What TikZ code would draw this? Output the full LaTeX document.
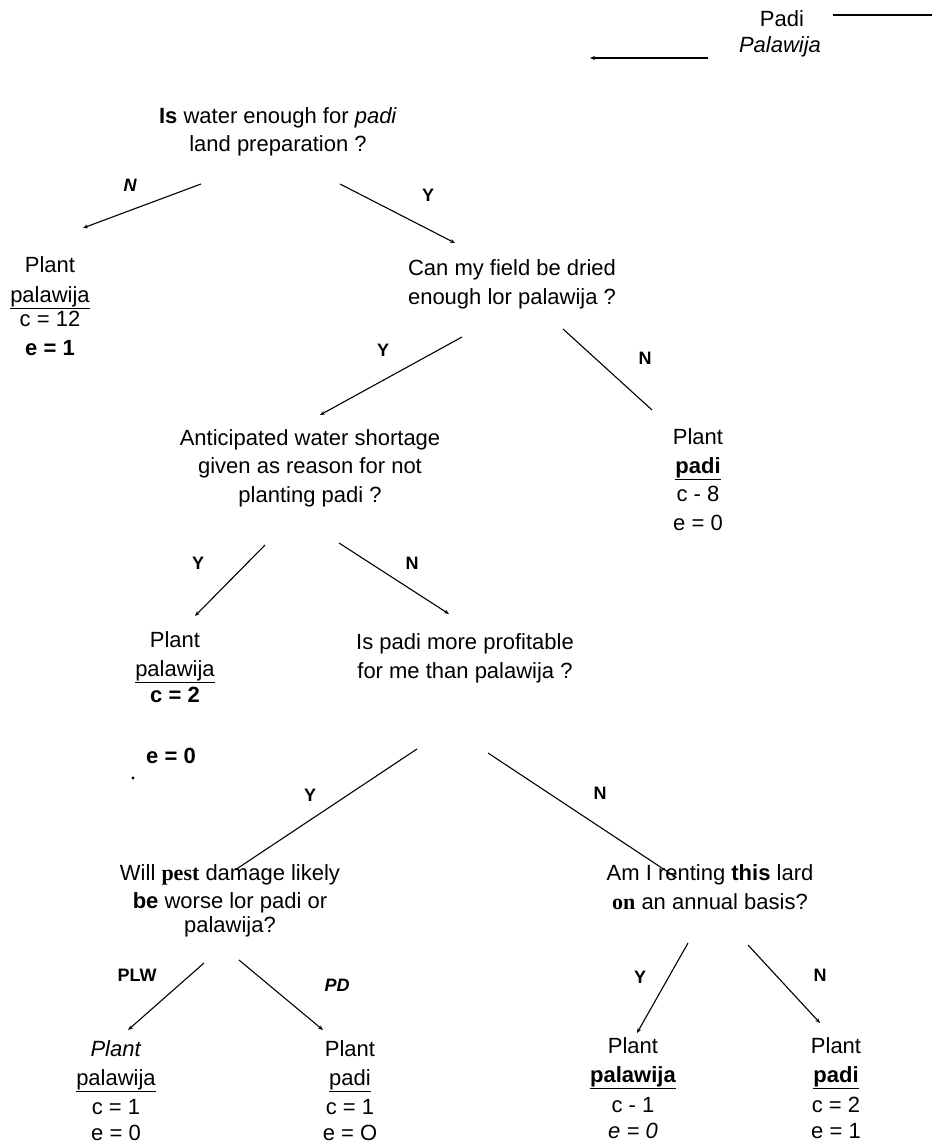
\documentclass[tikz,border=0pt]{standalone}
\usepackage{fontspec}
\setmainfont{Liberation Sans}
\newfontfamily\serifb{Liberation Serif}
\usetikzlibrary{arrows.meta}
\begin{document}
\begin{tikzpicture}[x=1pt,y=-1pt,
  txt/.style={font=\fontsize{22}{28.5}\selectfont, align=center, anchor=base, inner sep=0pt},
  lbl/.style={font=\fontsize{18}{20}\selectfont\bfseries, inner sep=0pt},
  arr/.style={-{Stealth[length=5pt,width=4pt]}, line width=1.1pt},
  ln/.style={line width=1.1pt}]
\useasboundingbox (0,0) rectangle (932,1147);

% legend
\node[txt] (lgpadi) at (782,27) {Padi};
\node[txt] (lgpal) at (780,53) {\textit{Palawija}};
\coordinate (lgA1) at (833,15); \coordinate (lgA2) at (932,15);
\coordinate (lgB1) at (708,58); \coordinate (lgB2) at (590,58);
\draw[ln] (lgA1) -- (lgA2);
\draw[arr] (lgB1) -- (lgB2);

% questions (anchor base = baseline of last line)
\node[txt] (q1) at (278,152) {\textbf{Is} water enough for \textit{padi}\\land preparation ?};
\node[txt] (q2) at (512,304) {Can my field be dried\\enough lor palawija ?};
\node[txt] (q3) at (310,502) {Anticipated water shortage\\given as reason for not\\planting padi ?};
\node[txt] (q4) at (465,678) {Is padi more profitable\\for me than palawija ?};
\node[txt] (q5) at (230,932) {Will {\serifb\bfseries pest} damage likely\\\textbf{be} worse lor padi or\\[-5pt]palawija?};
\node[txt] (q6) at (710,909) {Am I renting \textbf{this} lard\\{\serifb\bfseries on} an annual basis?};

% leaves
\node[txt] (l1) at (50,355) {Plant\\[1pt]\underline{palawija}\\[-4pt]c = 12\\\textbf{e = 1}};
\node[txt] (l2) at (698,530) {Plant\\\underline{\textbf{padi}}\\c - 8\\e = 0};
\node[txt] (l3) at (175,702) {Plant\\[1pt]\underline{palawija}\\[-3pt]\textbf{c = 2}};
\node[txt] (l3e) at (171,763) {\textbf{e = 0}};
\fill (133,778) circle (1.6) coordinate (dot);
\node[txt] (l4) at (116,1140) {\textit{Plant}\\\underline{palawija}\\[1pt]c = 1\\[-3pt]e = 0};
\node[txt] (l5) at (350,1140) {Plant\\\underline{padi}\\[1pt]c = 1\\[-3pt]e = O};
\node[txt] (l6) at (633,1138) {Plant\\\underline{\textbf{palawija}}\\[2pt]c - 1\\[-3pt]\textit{e = 0}};
\node[txt] (l7) at (836,1138) {Plant\\\underline{\textbf{padi}}\\[2pt]c = 2\\[-3pt]e = 1};

% connector end points
\coordinate (q1n1) at (201,184); \coordinate (q1n2) at (83,228);
\coordinate (q1y1) at (340,184); \coordinate (q1y2) at (455,243);
\coordinate (q2y1) at (462,337); \coordinate (q2y2) at (320,415);
\coordinate (q2n1) at (563,329); \coordinate (q2n2) at (652,410);
\coordinate (q3y1) at (265,545); \coordinate (q3y2) at (195,616);
\coordinate (q3n1) at (339,543); \coordinate (q3n2) at (449,614);
\coordinate (q4y1) at (417,749); \coordinate (q4y2) at (235,870);
\coordinate (q4n1) at (488,753); \coordinate (q4n2) at (677,878);
\coordinate (q5a1) at (204,963); \coordinate (q5a2) at (128,1030);
\coordinate (q5b1) at (239,960); \coordinate (q5b2) at (323,1030);
\coordinate (q6y1) at (688,943); \coordinate (q6y2) at (637,1033);
\coordinate (q6n1) at (748,945); \coordinate (q6n2) at (820,1023);

\draw[arr] (q1n1) -- (q1n2);
\draw[arr] (q1y1) -- (q1y2);
\draw[arr] (q2y1) -- (q2y2);
\draw[ln] (q2n1) -- (q2n2);
\draw[arr] (q3y1) -- (q3y2);
\draw[arr] (q3n1) -- (q3n2);
\draw[ln] (q4y1) -- (q4y2);
\draw[arr] (q4n1) -- (q4n2);
\draw[arr] (q5a1) -- (q5a2);
\draw[arr] (q5b1) -- (q5b2);
\draw[arr] (q6y1) -- (q6y2);
\draw[arr] (q6n1) -- (q6n2);

% labels
\node[lbl] (b1) at (130,185) {\itshape N};
\node[lbl] (b2) at (428,195) {Y};
\node[lbl] (b3) at (383,350) {Y};
\node[lbl] (b4) at (645,358) {N};
\node[lbl] (b5) at (198,563) {Y};
\node[lbl] (b6) at (412,563) {N};
\node[lbl] (b7) at (310,795) {Y};
\node[lbl] (b8) at (600,793) {N};
\node[lbl] (b9) at (137,975) {PLW};
\node[lbl] (b10) at (337,985) {\itshape PD};
\node[lbl] (b11) at (640,977) {Y};
\node[lbl] (b12) at (820,975) {N};
\end{tikzpicture}
\end{document}
